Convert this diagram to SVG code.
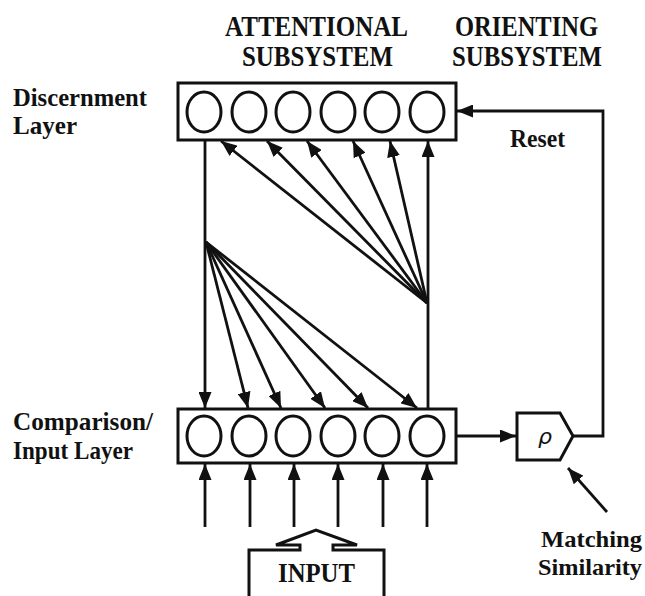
<svg xmlns="http://www.w3.org/2000/svg" width="645" height="596" viewBox="0 0 645 596">
<style>
.t{font-family:"Liberation Serif","Times New Roman",serif;font-weight:bold;fill:#111}
.h{font-size:30px}
.l{font-size:26px}
.s{font-size:24px}
.box{fill:#fff;stroke:#111;stroke-width:3}
.cell{fill:#fff;stroke:#111;stroke-width:3}
.c{fill:none;stroke:#111;stroke-width:2.8}
</style>
<defs>
<marker id="ah" markerUnits="userSpaceOnUse" markerWidth="17" markerHeight="13" refX="16" refY="6.5" orient="auto">
<path d="M0,0 L16,6.5 L0,13 z" fill="#111"/>
</marker>
</defs>
<rect width="645" height="596" fill="#fff"/>
<g id="labels">
<text class="t h" x="225" y="36" textLength="183" lengthAdjust="spacingAndGlyphs">ATTENTIONAL</text>
<text class="t h" x="242" y="66" textLength="151" lengthAdjust="spacingAndGlyphs">SUBSYSTEM</text>
<text class="t h" x="455" y="36" textLength="143" lengthAdjust="spacingAndGlyphs">ORIENTING</text>
<text class="t h" x="452" y="66" textLength="150" lengthAdjust="spacingAndGlyphs">SUBSYSTEM</text>
<text class="t l" x="13" y="106" textLength="134" lengthAdjust="spacingAndGlyphs">Discernment</text>
<text class="t l" x="13" y="134" textLength="64" lengthAdjust="spacingAndGlyphs">Layer</text>
<text class="t l" x="13" y="430" textLength="140" lengthAdjust="spacingAndGlyphs">Comparison/</text>
<text class="t l" x="13" y="459" textLength="120" lengthAdjust="spacingAndGlyphs">Input Layer</text>
<text class="t l" x="510" y="147" textLength="55" lengthAdjust="spacingAndGlyphs">Reset</text>
<text class="t s" x="541" y="547" textLength="101" lengthAdjust="spacingAndGlyphs">Matching</text>
<text class="t s" x="538" y="575" textLength="104" lengthAdjust="spacingAndGlyphs">Similarity</text>
</g>
<g id="discernment-layer">
<rect class="box" x="178" y="83" width="278" height="57"/>
<ellipse class="cell" cx="204" cy="112" rx="17" ry="20"/>
<ellipse class="cell" cx="249" cy="112" rx="17" ry="20"/>
<ellipse class="cell" cx="293" cy="112" rx="17" ry="20"/>
<ellipse class="cell" cx="338" cy="112" rx="17" ry="20"/>
<ellipse class="cell" cx="382" cy="112" rx="17" ry="20"/>
<ellipse class="cell" cx="427" cy="112" rx="17" ry="20"/>
</g>
<g id="comparison-layer">
<rect class="box" x="178" y="409" width="278" height="54"/>
<ellipse class="cell" cx="204" cy="436" rx="17" ry="20"/>
<ellipse class="cell" cx="249" cy="436" rx="17" ry="20"/>
<ellipse class="cell" cx="293" cy="436" rx="17" ry="20"/>
<ellipse class="cell" cx="338" cy="436" rx="17" ry="20"/>
<ellipse class="cell" cx="382" cy="436" rx="17" ry="20"/>
<ellipse class="cell" cx="427" cy="436" rx="17" ry="20"/>
</g>
<g id="rho">
<path d="M517,413 L560,413 L573,436 L560,460 L517,460 Z" fill="#fff" stroke="#111" stroke-width="3"/>
<text x="545" y="444" text-anchor="middle" font-family="'DejaVu Sans',sans-serif" font-style="italic" font-size="22" fill="#111">ρ</text>
</g>
<g id="input">
<path d="M249,596 L249,550 L300,550 L300,545 L276,545 L316,530 L357,545 L333,545 L333,550 L384,550 L384,596" fill="#fff" stroke="#111" stroke-width="3"/>
<text class="t" x="278" y="582" font-size="28" textLength="77" lengthAdjust="spacingAndGlyphs">INPUT</text>
</g>
<g id="connectors">
<line class="c" x1="205" y1="140" x2="205" y2="408" marker-end="url(#ah)"/>
<line class="c" x1="428" y1="409" x2="428" y2="141" marker-end="url(#ah)"/>
<line class="c" x1="427" y1="303" x2="221" y2="141" marker-end="url(#ah)"/>
<line class="c" x1="427" y1="303" x2="267" y2="141" marker-end="url(#ah)"/>
<line class="c" x1="427" y1="303" x2="307" y2="141" marker-end="url(#ah)"/>
<line class="c" x1="427" y1="303" x2="353" y2="141" marker-end="url(#ah)"/>
<line class="c" x1="427" y1="303" x2="390" y2="141" marker-end="url(#ah)"/>
<line class="c" x1="206" y1="242" x2="248" y2="408" marker-end="url(#ah)"/>
<line class="c" x1="206" y1="242" x2="281" y2="408" marker-end="url(#ah)"/>
<line class="c" x1="206" y1="242" x2="325" y2="408" marker-end="url(#ah)"/>
<line class="c" x1="206" y1="242" x2="368" y2="408" marker-end="url(#ah)"/>
<line class="c" x1="206" y1="242" x2="417" y2="408" marker-end="url(#ah)"/>
<line class="c" x1="205" y1="527" x2="205" y2="464" marker-end="url(#ah)"/>
<line class="c" x1="250" y1="527" x2="250" y2="464" marker-end="url(#ah)"/>
<line class="c" x1="294" y1="527" x2="294" y2="464" marker-end="url(#ah)"/>
<line class="c" x1="338" y1="527" x2="338" y2="464" marker-end="url(#ah)"/>
<line class="c" x1="383" y1="527" x2="383" y2="464" marker-end="url(#ah)"/>
<line class="c" x1="427" y1="527" x2="427" y2="464" marker-end="url(#ah)"/>
<line class="c" x1="456" y1="436" x2="516" y2="436" marker-end="url(#ah)"/>
<polyline class="c" points="573,436 603,436 603,111 457,111" marker-end="url(#ah)"/>
<line class="c" x1="607" y1="512" x2="568" y2="468" marker-end="url(#ah)"/>
</g>
</svg>
